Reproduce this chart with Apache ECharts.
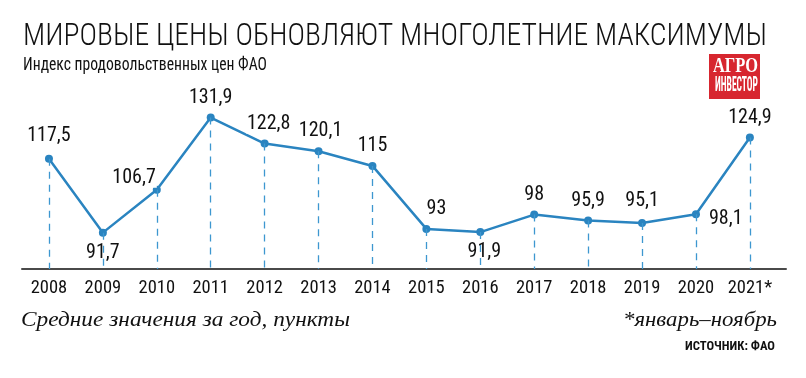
<!DOCTYPE html>
<html>
<head>
<meta charset="utf-8">
<script src="https://cdn.jsdelivr.net/npm/echarts@6/dist/echarts.min.js"></script>
<style>
  html, body { margin: 0; padding: 0; background: #fff; }
  #chart { width: 806px; height: 378px; }
</style>
</head>
<body>
<div id="chart"></div>
<script>
const years = ['2008', '2009', '2010', '2011', '2012', '2013', '2014', '2015', '2016', '2017', '2018', '2019', '2020', '2021*'];
const values = [117.5, 91.7, 106.7, 131.9, 122.8, 120.1, 115, 93, 91.9, 98, 95.9, 95.1, 98.1, 124.9];
const labelPlaces = ['top', 'bottom', 'left', 'top', 'top', 'top', 'top', 'top', 'bottom', 'top', 'top', 'top', 'right', 'top'];
const labelShifts = [[0, -3], [0, 0], [10, -12], [0, 0], [4, 0], [2, 0], [0, 0], [10, 0], [4, 0], [0, 0], [0, 0], [0, -2], [2, 5], [0, 0]];

const yMin = 79;
const narrow = "'Roboto Condensed', 'DejaVu Sans Condensed', sans-serif";
const serif = "'Liberation Serif', 'DejaVu Serif', serif";

// scale text horizontally so it fills a given width
const ctx = document.createElement('canvas').getContext('2d');
function fit(text, font, width) {
  ctx.font = font;
  return width / ctx.measureText(text).width;
}

const fmt = v => String(v).replace('.', ',');

const chart = echarts.init(document.getElementById('chart'));

const titleText = 'МИРОВЫЕ ЦЕНЫ ОБНОВЛЯЮТ МНОГОЛЕТНИЕ МАКСИМУМЫ';
const titleFont = '300 31px ' + narrow;
const subText = 'Индекс продовольственных цен ФАО';
const subFont = '17.5px ' + narrow;
const leftNote = 'Средние значения за год, пункты';
const leftFont = 'italic 21px ' + serif;
const rightNote = '*январь–ноябрь';
const srcText = 'ИСТОЧНИК: ФАО';
const srcFont = 'bold 12px ' + narrow;
const logoTop = 'АГРО';
const logoTopFont = 'bold 20px ' + serif;
const logoBottom = 'ИНВЕСТОР';
const logoBottomFont = 'bold 20px ' + narrow;

chart.setOption({
  animation: false,
  backgroundColor: '#fff',
  grid: { left: 22, width: 764, top: 60, height: 209 },
  xAxis: {
    type: 'value',
    min: -0.5,
    max: 13.67,
    splitLine: { show: false },
    axisTick: { show: false },
    axisLine: { show: true, lineStyle: { color: '#4a4a4a', width: 2 } },
    axisLabel: {
      customValues: years.map((y, i) => i),
      formatter: v => years[v],
      color: '#111',
      fontFamily: narrow,
      fontSize: 18.5,
      margin: 10
    }
  },
  yAxis: {
    type: 'value',
    min: yMin,
    max: 152,
    show: false
  },
  series: [{
    type: 'line',
    data: values.map((v, i) => ({
      value: [i, v],
      label: {
        position: labelPlaces[i],
        offset: labelShifts[i]
      }
    })),
    symbol: 'circle',
    symbolSize: 8,
    itemStyle: { color: '#2a84c0' },
    lineStyle: { color: '#2a84c0', width: 2.5 },
    label: {
      show: true,
      distance: 6,
      formatter: p => fmt(p.value[1]),
      color: '#111',
      fontFamily: narrow,
      fontSize: 20,
      backgroundColor: '#fff',
      padding: [0, 1]
    },
    markLine: {
      silent: true,
      symbol: 'none',
      label: { show: false },
      lineStyle: { color: '#3d97d0', width: 1.3, type: [7, 6] },
      data: values.map((v, i) => [{ coord: [i, v] }, { coord: [i, yMin] }])
    },
    z: 3
  }],
  graphic: [
    {
      type: 'text', x: 23, y: 37, scaleX: fit(titleText, titleFont, 744),
      style: { text: titleText, font: titleFont, fill: '#111', verticalAlign: 'middle' }
    },
    {
      type: 'text', x: 23, y: 66, scaleX: fit(subText, subFont, 244),
      style: { text: subText, font: subFont, fill: '#111', verticalAlign: 'middle' }
    },
    {
      type: 'rect', shape: { x: 709, y: 54, width: 51, height: 45 },
      style: { fill: '#d7262f' }
    },
    {
      type: 'text', x: 735.5, y: 66.5, scaleX: fit(logoTop, logoTopFont, 45),
      style: { text: logoTop, font: logoTopFont, fill: '#fff', align: 'center', verticalAlign: 'middle' }
    },
    {
      type: 'text', x: 736.5, y: 86, scaleX: fit(logoBottom, logoBottomFont, 43),
      style: { text: logoBottom, font: logoBottomFont, fill: '#fff', align: 'center', verticalAlign: 'middle' }
    },
    {
      type: 'text', x: 21, y: 320, scaleX: fit(leftNote, leftFont, 329),
      style: { text: leftNote, font: leftFont, fill: '#111', verticalAlign: 'middle' }
    },
    {
      type: 'text', x: 777, y: 320, scaleX: fit(rightNote, leftFont, 154),
      style: { text: rightNote, font: leftFont, fill: '#111', align: 'right', verticalAlign: 'middle' }
    },
    {
      type: 'text', x: 775, y: 347, scaleX: fit(srcText, srcFont, 90),
      style: { text: srcText, font: srcFont, fill: '#111', align: 'right', verticalAlign: 'middle' }
    }
  ]
});

window.addEventListener('resize', () => {
  chart.resize();
});
</script>
</body>
</html>
